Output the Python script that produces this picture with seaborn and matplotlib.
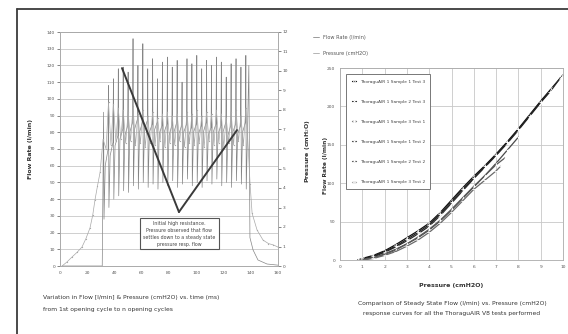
import matplotlib
matplotlib.use("Agg")
import matplotlib.pyplot as plt
import seaborn as sns
from matplotlib.lines import Line2D

# ---- left chart: flow (L/min) and pressure (cmH2O) vs time ----
flow_t = [1.5, 31.0,
          32.0, 32.3, 33.2, 35.3, 35.6, 35.9, 36.8, 38.9, 39.2, 39.5, 40.4, 42.5,
          42.8, 43.1, 44.0, 46.1, 46.4, 46.7, 47.6, 49.7, 50.0, 50.3, 51.2, 53.3,
          53.6, 53.9, 54.8, 56.9, 57.2, 57.5, 58.4, 60.5, 60.8, 61.1, 62.0, 64.1,
          64.4, 64.7, 65.6, 67.7, 68.0, 68.3, 69.2, 71.3, 71.6, 71.9, 72.8, 74.9,
          75.2, 75.5, 76.4, 78.5, 78.8, 79.1, 80.0, 82.1, 82.4, 82.7, 83.6, 85.7,
          86.0, 86.3, 87.2, 89.3, 89.6, 89.9, 90.8, 92.9, 93.2, 93.5, 94.4, 96.5,
          96.8, 97.1, 98.0, 100.1, 100.4, 100.7, 101.6, 103.7, 104.0, 104.3, 105.2, 107.3,
          107.6, 107.9, 108.8, 110.9, 111.2, 111.5, 112.4, 114.5, 114.8, 115.1, 116.0, 118.1,
          118.4, 118.7, 119.6, 121.7, 122.0, 122.3, 123.2, 125.3, 125.6, 125.9, 126.8, 128.9,
          129.2, 129.5, 130.4, 132.5, 132.8, 133.1, 134.0, 136.1, 136.4, 136.7, 137.6,
          138.6, 139.4, 141.7, 145.3, 151.9, 160.0]
flow_v = [0, 0,
          92, 28, 60, 70, 108, 35, 66, 74, 112, 40, 72, 78,
          118, 42, 76, 82, 119, 45, 78, 84, 116, 44, 80, 86,
          136, 48, 82, 88, 120, 46, 80, 86, 133, 50, 82, 87,
          118, 47, 80, 85, 124, 49, 81, 86, 112, 46, 79, 84,
          122, 50, 80, 85, 125, 48, 78, 84, 119, 51, 80, 86,
          123, 47, 79, 84, 110, 49, 80, 85, 124, 52, 78, 83,
          121, 48, 80, 85, 126, 50, 79, 84, 118, 47, 80, 86,
          123, 51, 78, 83, 120, 49, 80, 85, 125, 52, 79, 84,
          122, 48, 80, 86, 113, 50, 78, 84, 121, 47, 80, 85,
          124, 51, 79, 84, 119, 49, 80, 86, 126, 46, 80,
          120, 17, 9.6, 3.6, 1.2, 0.5]

pres_t = [1.5, 5.0, 8.8, 12.5, 16.1, 19.0, 22.0, 24.0, 25.7, 27.5, 29.4, 31.6,
          33.8, 35.6, 37.4, 39.2, 41.0, 42.8, 44.6, 46.4, 48.2, 50.0, 51.8, 53.6, 55.4,
          57.2, 59.0, 60.8, 62.6, 64.4, 66.2, 68.0, 69.8, 71.6, 73.4, 75.2, 77.0, 78.8,
          80.6, 82.4, 84.2, 86.0, 87.8, 89.6, 91.4, 93.2, 95.0, 96.8, 98.6, 100.4, 102.2,
          104.0, 105.8, 107.6, 109.4, 111.2, 113.0, 114.8, 116.6, 118.4, 120.2, 122.0,
          123.8, 125.6, 127.4, 129.2, 131.0, 132.8, 134.6, 136.4, 138.2,
          139.5, 141.0, 144.6, 149.0, 153.0, 156.6, 160.0]
pres_v = [0, 0.2, 0.46, 0.7, 0.97, 1.4, 1.95, 2.6, 3.4, 4.1, 4.8, 6.5,
          6.0, 8.4, 6.2, 8.3, 6.4, 8.1, 6.5, 8.0, 6.3, 7.9, 6.4, 8.2, 6.2,
          7.8, 6.3, 8.0, 6.1, 7.7, 6.3, 7.9, 6.2, 7.6, 6.4, 7.8, 6.1, 7.9,
          6.3, 7.7, 6.2, 7.8, 6.4, 7.6, 6.1, 7.9, 6.3, 7.8, 6.2, 8.0, 6.3,
          7.7, 6.1, 7.9, 6.4, 7.8, 6.2, 8.0, 6.3, 7.8, 6.1, 7.6,
          6.3, 7.9, 6.2, 8.0, 6.4, 7.7, 6.2, 8.1, 6.0,
          4.2, 2.7, 1.85, 1.33, 1.15, 1.08, 0.97]

time_ticks = [0, 20, 40, 60, 80, 100, 120, 140, 160]
flow_ticks = [0, 10, 20, 30, 40, 50, 60, 70, 80, 90, 100, 110, 120, 130, 140]
pres_ticks = [0, 1, 2, 3, 4, 5, 6, 7, 8, 9, 10, 11, 12]

# ---- right chart: steady state flow vs pressure ----
rp1 = [0.8, 1.0, 1.5, 2.0, 2.5, 3.0, 3.5, 4.0, 4.5, 5.0, 5.5, 6.0, 6.5, 7.0, 7.5, 8.0, 8.5, 9.0, 9.5, 10.0]
rf1 = [0, 2, 6, 12, 20, 29, 38, 48, 62, 78, 94, 109, 123, 138, 154, 171, 189, 207, 224, 241]
rp2 = [0.9, 1.0, 1.5, 2.0, 2.5, 3.0, 3.5, 4.0, 4.5, 5.0, 5.5, 6.0, 6.5, 7.0, 7.5, 8.0, 8.5, 9.0, 9.5, 9.9]
rf2 = [0, 1, 4, 10, 17, 25, 34, 44, 58, 74, 90, 106, 121, 136, 152, 169, 187, 205, 222, 238]
rp3 = [0.8, 1.0, 1.5, 2.0, 2.5, 3.0, 3.5, 4.0, 4.5, 5.0, 5.5, 6.0, 6.5, 7.0, 7.5, 8.0, 8.5, 9.0, 9.4]
rf3 = [0, 1, 5, 11, 18, 27, 36, 46, 60, 76, 92, 107, 122, 137, 153, 170, 188, 206, 219]
rp4 = [0.9, 1.0, 1.5, 2.0, 2.5, 3.0, 3.5, 4.0, 4.5, 5.0, 5.5, 6.0, 6.5, 7.0, 7.5, 8.0]
rf4 = [0, 1, 3, 8, 14, 21, 29, 39, 51, 65, 80, 95, 110, 126, 143, 160]
rp5 = [1.0, 1.5, 2.0, 2.5, 3.0, 3.5, 4.0, 4.5, 5.0, 5.5, 6.0, 6.5, 7.0, 7.4]
rf5 = [0, 3, 7, 13, 21, 30, 40, 52, 66, 81, 96, 110, 124, 133]
rp6 = [1.0, 1.5, 2.0, 2.5, 3.0, 3.5, 4.0, 4.5, 5.0, 5.5, 6.0, 6.5, 7.0, 7.2]
rf6 = [0, 2, 6, 11, 18, 26, 36, 48, 62, 77, 92, 104, 116, 122]
test_labels = ["ThoraguAIR 1 Sample 1 Test 3", "ThoraguAIR 1 Sample 2 Test 3",
               "ThoraguAIR 1 Sample 3 Test 1", "ThoraguAIR 1 Sample 1 Test 2",
               "ThoraguAIR 1 Sample 2 Test 2", "ThoraguAIR 1 Sample 3 Test 2"]
rp_ticks = [0, 1, 2, 3, 4, 5, 6, 7, 8, 9, 10]
rf_ticks = [0, 50, 100, 150, 200, 250]

sns.set_theme(style="white")
plt.rcParams['font.family'] = ['DejaVu Sans']

W, H = 568, 334
fig = plt.figure(figsize=(W / 100, H / 100), dpi=100)
fig.patch.set_facecolor('white')

tick_kw = dict(labelsize=3.2, length=2, width=0.5, colors='#555555', pad=1.5)

# left chart
ax = fig.add_axes([60 / W, 1 - 266 / H, 218 / W, 234 / H])
ax2 = ax.twinx()
sns.lineplot(x=flow_t, y=flow_v, ax=ax, color='#858585', lw=0.5, sort=False, estimator=None)
sns.lineplot(x=pres_t, y=pres_v, ax=ax2, color='#a8a8a8', lw=0.5, sort=False, estimator=None,
             marker='.', markersize=1.8, markeredgewidth=0)
ax.set_xlim(0, 160)
ax.set_ylim(0, 140)
ax2.set_ylim(0, 12)
ax.set_xticks(time_ticks)
ax.set_yticks(flow_ticks)
ax2.set_yticks(pres_ticks)
ax.grid(axis='y', color='#c8c8c8', lw=0.6)
ax.tick_params(**tick_kw)
ax2.tick_params(**tick_kw)
for a in (ax, ax2):
    for s in a.spines.values():
        s.set_color('#aaaaaa')
        s.set_linewidth(0.6)
ax.set_ylabel('Flow Rate (l/min)', fontsize=4.5, fontweight='bold', color='#333333')
ax.yaxis.set_label_coords(-0.125, 0.5)
ax2.set_ylabel('Pressure (cmH$_2$O)', fontsize=4.5, fontweight='bold', color='#333333')
ax2.yaxis.set_label_coords(1.115, 0.49)

# annotation box with two leader lines
arrow_kw = dict(arrowstyle='-', color='#3a3a3a', lw=1.4, shrinkA=0, shrinkB=0)
ax2.annotate('', xy=(45.5, 118.4), xycoords=ax.transData,
             xytext=(87.3, 32.3), textcoords=ax.transData, arrowprops=arrow_kw)
ax2.annotate('', xy=(129.9, 81.3), xycoords=ax.transData,
             xytext=(87.3, 32.3), textcoords=ax.transData, arrowprops=arrow_kw)
ax2.text(87.7, 19.4, 'Initial high resistance.\nPressure observed that flow\n'
         'settles down to a steady state\npressure resp. flow',
         transform=ax.transData, ha='center', va='center', fontsize=3.4,
         color='#444444', linespacing=1.5,
         bbox=dict(boxstyle='square,pad=0.6', fc='white', ec='#555555', lw=0.8))

handles = [Line2D([0], [0], color='#8a8a8a', lw=0.6), Line2D([0], [0], color='#a8a8a8', lw=0.6)]
fig.legend(handles, ['Flow Rate (l/min)', 'Pressure (cmH2O)'], loc='upper left',
           bbox_to_anchor=(308 / W, 1 - 30 / H), frameon=False, fontsize=3.6,
           handlelength=1.2, labelspacing=2.2, labelcolor='#555555')

# right chart
bx = fig.add_axes([340 / W, 1 - 260 / H, 223 / W, 192 / H])
series = [(rp1, rf1), (rp2, rf2), (rp3, rf3), (rp4, rf4), (rp5, rf5), (rp6, rf6)]
markers = ['.', 'x', '+', '1', '2', '_']
colors = ['#111111', '#2a2a2a', '#222222', '#4a4a4a', '#5a5a5a', '#6a6a6a']
for (px, fy), lab, m, c in zip(series, test_labels, markers, colors):
    sns.lineplot(x=px, y=fy, ax=bx, color=c, lw=0.9, marker=m, markersize=2.5,
                 markeredgewidth=0.6, sort=False, estimator=None, label=lab)
bx.set_xlim(0, 10)
bx.set_ylim(0, 250)
bx.set_xticks(rp_ticks)
bx.set_yticks(rf_ticks)
bx.grid(True, color='#c8c8c8', lw=0.6)
bx.tick_params(**tick_kw)
for s in bx.spines.values():
    s.set_color('#aaaaaa')
    s.set_linewidth(0.6)
bx.set_xlabel('Pressure (cmH2O)', fontsize=4.5, fontweight='bold', color='#333333')
bx.xaxis.set_label_coords(0.5, -0.12)
bx.set_ylabel('Flow Rate (l/min)', fontsize=4.2, fontweight='bold', color='#333333')
bx.yaxis.set_label_coords(-0.055, 0.49)
leg = bx.legend(loc='upper left', bbox_to_anchor=(0.018, 0.98), fontsize=3.2,
                handlelength=1.0, labelspacing=3.6, borderpad=1.2, fancybox=False,
                framealpha=1, edgecolor='#777777', labelcolor='#444444')
leg.get_frame().set_linewidth(0.7)

# captions
fig.text(43 / W, 1 - 298 / H, 'Variation in Flow [l/min] & Pressure (cmH2O) vs. time (ms)',
         fontsize=4.3, color='#333333', va='center')
fig.text(43 / W, 1 - 309 / H, 'from 1st opening cycle to n opening cycles',
         fontsize=4.3, color='#333333', va='center')
fig.text(452 / W, 1 - 304 / H, 'Comparison of Steady State Flow (l/min) vs. Pressure (cmH2O)',
         fontsize=4.3, color='#333333', va='center', ha='center')
fig.text(452 / W, 1 - 314 / H, 'response curves for all the ThoraguAIR V8 tests performed',
         fontsize=4.3, color='#333333', va='center', ha='center')

# page frame
fig.add_artist(Line2D([17 / W, 1], [1 - 9 / H, 1 - 9 / H], color='#3c3c3c', lw=1.3,
                      transform=fig.transFigure))
fig.add_artist(Line2D([17 / W, 17 / W], [0, 1 - 9 / H], color='#3c3c3c', lw=1.3,
                      transform=fig.transFigure))

fig.savefig('out.png', dpi=100, facecolor='white')
